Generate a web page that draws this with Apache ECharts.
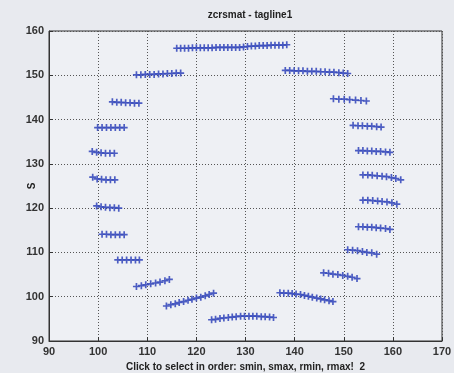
<!DOCTYPE html>
<html>
<head>
<meta charset="utf-8">
<script src="https://cdn.jsdelivr.net/npm/echarts@6/dist/echarts.min.js"></script>
<style>
html,body{margin:0;padding:0;background:#e8eaef;}
#c{width:454px;height:373px;}
</style>
</head>
<body>
<div id="c"></div>
<script>
var titleText = 'zcrsmat - tagline1';
var yLabel = 'S';
var xLabel = 'Click to select in order: smin, smax, rmin, rmax!  2';
var xTicks = [90, 100, 110, 120, 130, 140, 150, 160, 170];
var yTicks = [90, 100, 110, 120, 130, 140, 150, 160];

// segments: x values and y values
var segA_x = [116.0,116.8,117.6,118.4,119.2,120.0,120.8,121.6,122.4,123.2,124.0,124.8,125.6,126.4,127.2,128.0,128.8,129.6,130.4,131.2,132.0,132.8,133.6,134.4,135.2,136.0,136.8,137.6,138.4];
var segA_y = [156.1,156.1,156.1,156.1,156.2,156.2,156.2,156.2,156.2,156.2,156.3,156.3,156.3,156.3,156.3,156.3,156.3,156.4,156.5,156.6,156.6,156.7,156.7,156.7,156.8,156.8,156.8,156.8,156.9];
var segB_x = [107.8,108.7,109.6,110.5,111.4,112.3,113.2,114.1,115.0,115.9,116.8];
var segB_y = [150.1,150.1,150.2,150.2,150.2,150.3,150.3,150.4,150.4,150.5,150.5];
var segC_x = [102.9,103.8,104.7,105.6,106.5,107.4,108.3];
var segC_y = [144.0,143.9,143.9,143.8,143.8,143.7,143.7];
var segD_x = [99.9,100.8,101.7,102.6,103.5,104.4,105.3];
var segD_y = [138.2,138.2,138.2,138.2,138.2,138.2,138.2];
var segE_x = [98.8,99.7,100.6,101.5,102.4,103.3];
var segE_y = [132.8,132.6,132.5,132.4,132.4,132.4];
var segF_x = [98.9,99.8,100.7,101.6,102.5,103.4];
var segF_y = [127.0,126.6,126.5,126.4,126.4,126.4];
var segG_x = [99.7,100.6,101.5,102.4,103.3,104.2];
var segG_y = [120.5,120.3,120.2,120.1,120.1,120.0];
var segH_x = [100.8,101.7,102.6,103.5,104.4,105.3];
var segH_y = [114.1,114.1,114.0,114.0,114.0,114.0];
var segI_x = [104.0,104.9,105.8,106.7,107.6,108.4];
var segI_y = [108.3,108.3,108.3,108.3,108.3,108.3];
var segJ_x = [107.8,108.8,109.7,110.7,111.7,112.6,113.6,114.5];
var segJ_y = [102.3,102.5,102.7,102.9,103.1,103.3,103.6,103.9];
var segK_x = [113.9,114.8,115.7,116.5,117.4,118.3,119.1,120.0,120.9,121.8,122.6,123.5];
var segK_y = [97.9,98.2,98.4,98.7,98.9,99.2,99.4,99.7,99.9,100.2,100.5,100.8];
var segL_x = [123.1,123.9,124.8,125.6,126.5,127.3,128.1,129.0,129.8,130.7,131.5,132.3,133.2,134.0,134.9,135.7];
var segL_y = [94.8,94.9,95.1,95.2,95.3,95.4,95.5,95.6,95.6,95.6,95.6,95.6,95.5,95.5,95.4,95.3];
var segM_x = [137.0,137.8,138.7,139.5,140.3,141.2,142.0,142.8,143.6,144.5,145.3,146.1,147.0,147.8];
var segM_y = [100.9,100.8,100.8,100.7,100.6,100.5,100.3,100.1,99.9,99.7,99.5,99.3,99.1,98.9];
var segN_x = [145.9,146.9,147.8,148.8,149.8,150.8,151.7,152.7];
var segN_y = [105.4,105.3,105.1,105.0,104.8,104.6,104.4,104.1];
var segO_x = [150.8,151.8,152.8,153.8,154.7,155.7,156.7];
var segO_y = [110.6,110.5,110.4,110.2,110.0,109.9,109.6];
var segP_x = [153.0,153.9,154.8,155.7,156.6,157.5,158.5,159.4];
var segP_y = [115.8,115.8,115.7,115.7,115.6,115.5,115.4,115.2];
var segQ_x = [153.9,154.9,155.9,156.9,157.8,158.8,159.8,160.8];
var segQ_y = [121.8,121.8,121.7,121.6,121.5,121.4,121.2,120.9];
var segR_x = [153.9,154.9,155.8,156.8,157.8,158.7,159.7,160.6,161.6];
var segR_y = [127.5,127.5,127.4,127.3,127.2,127.1,126.9,126.7,126.4];
var segS_x = [153.0,153.9,154.8,155.7,156.6,157.5,158.5,159.4];
var segS_y = [133.0,133.0,132.9,132.9,132.8,132.8,132.7,132.6];
var segT_x = [151.9,152.9,153.8,154.8,155.7,156.7,157.6];
var segT_y = [138.7,138.6,138.6,138.5,138.5,138.4,138.3];
var segU_x = [147.9,149.0,150.1,151.2,152.4,153.5,154.6];
var segU_y = [144.7,144.6,144.6,144.5,144.4,144.3,144.2];
var segV_x = [138.1,139.0,139.9,140.8,141.7,142.6,143.5,144.4,145.3,146.2,147.1,148.0,149.0,149.9,150.8];
var segV_y = [151.1,151.1,151.0,151.0,151.0,150.9,150.9,150.9,150.8,150.8,150.7,150.7,150.6,150.5,150.4];

var segments = [
  [segA_x, segA_y],[segB_x, segB_y],[segC_x, segC_y],[segD_x, segD_y],
  [segE_x, segE_y],[segF_x, segF_y],[segG_x, segG_y],[segH_x, segH_y],
  [segI_x, segI_y],[segJ_x, segJ_y],[segK_x, segK_y],[segL_x, segL_y],
  [segM_x, segM_y],[segN_x, segN_y],[segO_x, segO_y],[segP_x, segP_y],
  [segQ_x, segQ_y],[segR_x, segR_y],[segS_x, segS_y],[segT_x, segT_y],
  [segU_x, segU_y],[segV_x, segV_y]
];

var plusPath = 'path://M-1,-0.24 L-0.24,-0.24 L-0.24,-1 L0.24,-1 L0.24,-0.24 L1,-0.24 L1,0.24 L0.24,0.24 L0.24,1 L-0.24,1 L-0.24,0.24 L-1,0.24 Z';

var series = segments.map(function (s) {
  return {
    type: 'scatter',
    data: s[0].map(function (x, i) { return [x, s[1][i]]; }),
    symbol: plusPath,
    symbolSize: 7,
    itemStyle: { color: '#3a4dbd', opacity: 0.9 },
    silent: true,
    animation: false
  };
});

var chart = echarts.init(document.getElementById('c'));
var fontFam = '"Liberation Sans", Arial, sans-serif';
chart.setOption({
  backgroundColor: '#e8eaef',
  animation: false,
  title: {
    text: titleText, left: 245, top: 5, textAlign: 'center',
    textStyle: { fontFamily: fontFam, fontSize: 10, fontWeight: 'bold', color: '#222' }
  },
  grid: {
    left: 49, right: 12, top: 31, bottom: 32,
    outerBoundsMode: 'none', containLabel: false,
    show: true, backgroundColor: '#eef0f4', borderColor: '#333', borderWidth: 1
  },
  xAxis: {
    type: 'value', min: xTicks[0], max: xTicks[xTicks.length - 1], interval: 10,
    name: xLabel, nameLocation: 'middle', nameGap: 21, nameMoveOverlap: false,
    nameTextStyle: { fontFamily: fontFam, fontSize: 10, fontWeight: 'bold', color: '#222' },
    axisLine: { lineStyle: { color: '#333' } },
    axisTick: { inside: true, length: 4, lineStyle: { color: '#333' } },
    axisLabel: { fontFamily: fontFam, fontSize: 11, fontWeight: 'bold', color: '#333', margin: 5 },
    splitLine: { show: true, lineStyle: { type: [1, 2], color: '#555', width: 1 } }
  },
  yAxis: {
    type: 'value', min: yTicks[0], max: yTicks[yTicks.length - 1], interval: 10,
    name: yLabel, nameLocation: 'middle', nameGap: 12, nameRotate: 90, nameMoveOverlap: false,
    nameTextStyle: { fontFamily: fontFam, fontSize: 10, fontWeight: 'bold', color: '#222' },
    axisLine: { show: true, lineStyle: { color: '#333' } },
    axisTick: { show: true, inside: true, length: 4, lineStyle: { color: '#333' } },
    axisLabel: { fontFamily: fontFam, fontSize: 11, fontWeight: 'bold', color: '#333', margin: 5 },
    splitLine: { show: true, lineStyle: { type: [1, 2], color: '#555', width: 1 } }
  },
  series: series
});
</script>
</body>
</html>
